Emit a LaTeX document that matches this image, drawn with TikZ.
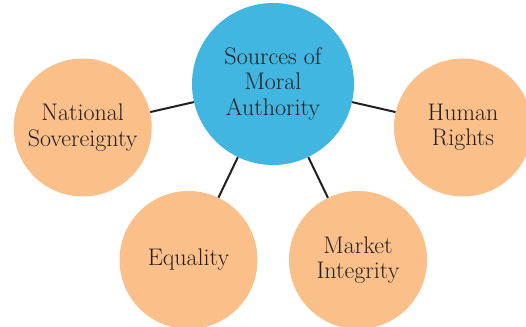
\documentclass[tikz,border=0pt]{standalone}
\definecolor{hub}{HTML}{40B6E0}
\definecolor{leaf}{HTML}{FBC089}
\definecolor{ink}{HTML}{231F20}
\tikzset{
  hubc/.style={circle, fill=hub, minimum size=162pt, inner sep=0pt, align=center, text=ink, font=\fontsize{24}{25.5}\selectfont},
  leafc/.style={circle, fill=leaf, minimum size=138pt, inner sep=0pt, align=center, text=ink, font=\fontsize{24}{25.5}\selectfont},
}

\begin{document}
\begin{tikzpicture}[x=1pt, y=-1pt]
\useasboundingbox (0,0) rectangle (526,326);
\node[hubc]  (SMA) at (273, 84)    {Sources of\\Moral\\Authority};
\node[leafc] (NS)  at (82.7, 127.5) {National\\Sovereignty};
\node[leafc] (HR)  at (463, 127.5) {Human\\Rights};
\node[leafc] (EQ)  at (188.5, 260) {Equality};
\node[leafc] (MI)  at (358, 260)   {Market\\Integrity};

\path[draw=ink, line width=2pt]
(SMA) edge (NS)
(SMA) edge (HR)
(SMA) edge (EQ)
(SMA) edge (MI);
\end{tikzpicture}
\end{document}
